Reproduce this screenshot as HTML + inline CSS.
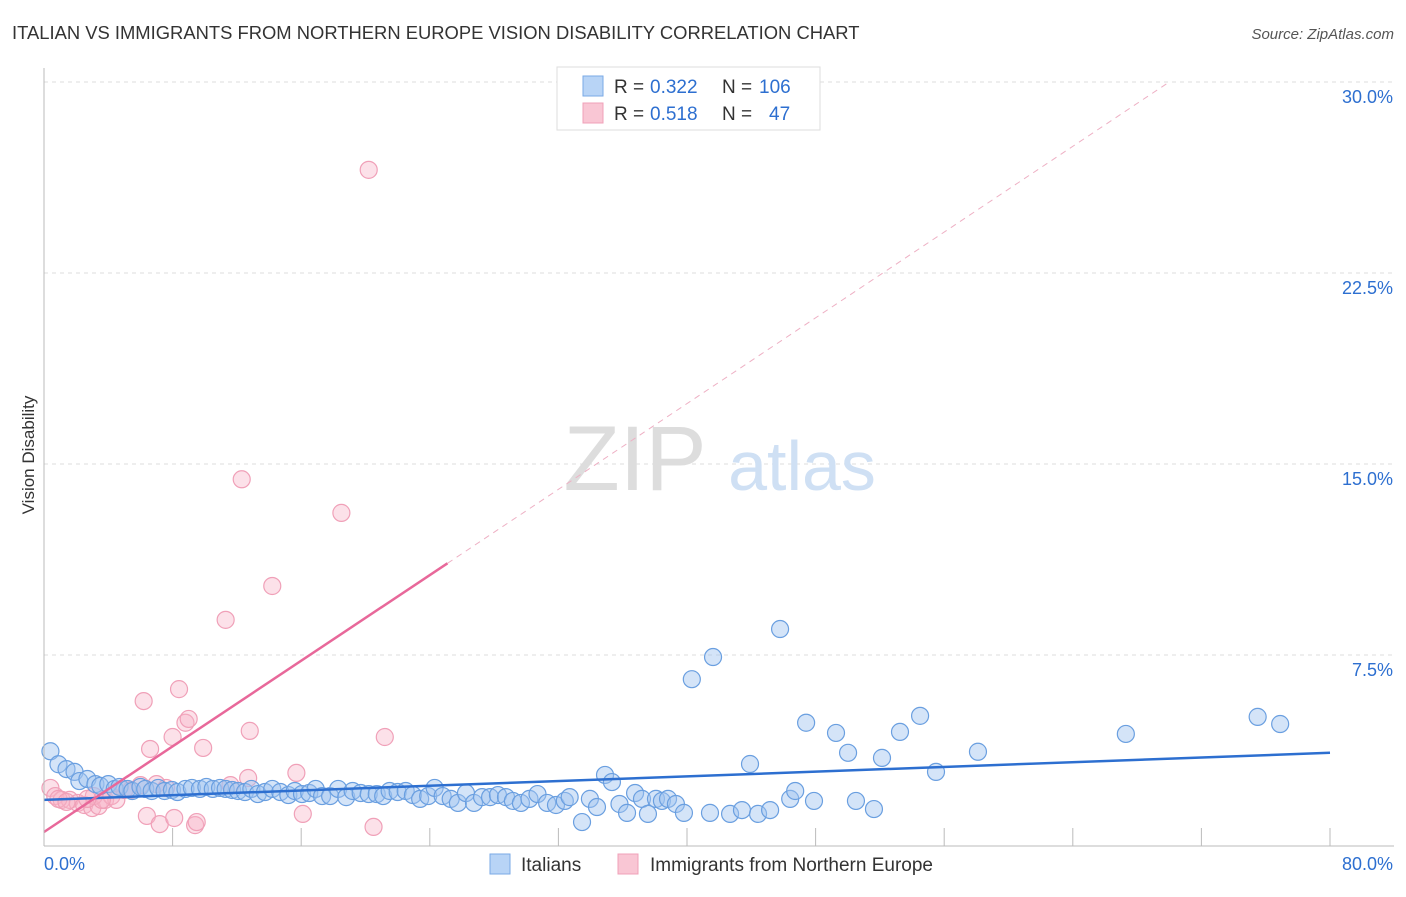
<!DOCTYPE html>
<html><head><meta charset="utf-8">
<style>
body{margin:0;background:#fff;font-family:"Liberation Sans",sans-serif;}
svg text{font-family:"Liberation Sans",sans-serif;}
</style></head>
<body>
<svg id="chart" width="1406" height="892" xmlns="http://www.w3.org/2000/svg">
<text x="12" y="39" font-size="18.4" fill="#333">ITALIAN VS IMMIGRANTS FROM NORTHERN EUROPE VISION DISABILITY CORRELATION CHART</text>
<text x="1394" y="39" font-size="15" fill="#555" text-anchor="end" font-style="italic">Source: ZipAtlas.com</text>
<text transform="translate(34,455) rotate(-90)" font-size="17" fill="#333" text-anchor="middle">Vision Disability</text>
<g id="grid"></g>
<g id="watermark">
<text x="635" y="490" font-size="92" fill="#ddd" text-anchor="middle" font-family="Liberation Serif">ZIP</text>
<text x="802" y="490" font-size="70" fill="#cfe0f4" text-anchor="middle">atlas</text>
</g>
<g id="pinkPts"></g>
<g id="bluePts"></g>
<g id="trends"></g>
<g id="axes"></g>
<g>
<rect x="557" y="67" width="263" height="63" fill="#fff" stroke="#ddd"/>
<rect x="583" y="76" width="20" height="20" fill="#b8d4f6" stroke="#7aaae6"/>
<rect x="583" y="103" width="20" height="20" fill="#f9c6d4" stroke="#f0a0b8"/>
<text x="614" y="93" font-size="19" fill="#333">R =</text>
<text x="650" y="93" font-size="19" fill="#2d6fd0">0.322</text>
<text x="722" y="93" font-size="19" fill="#333">N =</text>
<text x="759" y="93" font-size="19" fill="#2d6fd0">106</text>
<text x="614" y="120" font-size="19" fill="#333">R =</text>
<text x="650" y="120" font-size="19" fill="#2d6fd0">0.518</text>
<text x="722" y="120" font-size="19" fill="#333">N =</text>
<text x="769" y="120" font-size="19" fill="#2d6fd0">47</text>
</g>
<g>
<rect x="490" y="854" width="20" height="20" fill="#b8d4f6" stroke="#7aaae6"/>
<text x="521" y="871" font-size="19" fill="#333">Italians</text>
<rect x="618" y="854" width="20" height="20" fill="#f9c6d4" stroke="#f0a0b8"/>
<text x="650" y="871" font-size="19" fill="#333">Immigrants from Northern Europe</text>
</g>
</svg>
<script>
const xTicks=[0,8,16,24,32,40,48,56,64,72,80];
const yTicks=[7.5,15,22.5,30];
const yTickLabels=["7.5%","15.0%","22.5%","30.0%"];
const blueX=[0.4,0.9,1.4,1.9,2.2,2.7,3.2,3.5,4,4.4,4.7,5.2,5.5,6,6.3,6.7,7.1,7.5,7.96,8.3,8.8,9.2,9.7,10.1,10.5,10.95,11.3,11.7,12.07,12.5,12.9,13.3,13.75,14.2,14.7,15.2,15.6,16.05,16.5,16.9,17.3,17.8,18.3,18.8,19.2,19.7,20.2,20.7,21.1,21.5,22,22.5,22.95,23.4,23.9,24.3,24.8,25.3,25.75,26.25,26.75,27.25,27.75,28.24,28.74,29.17,29.67,30.2,30.7,31.3,31.85,32.4,32.7,33.47,33.96,34.4,34.9,35.33,35.8,36.27,36.77,37.2,37.57,38.07,38.44,38.82,39.31,39.81,40.3,41.43,41.62,42.68,43.42,43.92,44.42,45.17,45.79,46.42,46.73,47.41,47.9,49.27,50.02,50.51,51.63,52.13,53.25,54.5,55.49,58.1,67.3,75.5,76.9];
const blueY=[3.72,3.21,3.02,2.91,2.55,2.63,2.43,2.36,2.43,2.24,2.32,2.24,2.16,2.32,2.24,2.16,2.28,2.16,2.2,2.12,2.24,2.28,2.24,2.32,2.24,2.28,2.24,2.2,2.16,2.12,2.24,2.04,2.12,2.24,2.12,2.0,2.16,2.04,2.08,2.24,1.96,1.96,2.24,1.92,2.16,2.08,2.04,2.04,1.96,2.16,2.12,2.16,2.0,1.85,1.96,2.28,1.96,1.85,1.69,2.08,1.69,1.92,1.92,2.0,1.92,1.77,1.69,1.85,2.04,1.69,1.61,1.77,1.92,0.94,1.85,1.53,2.79,2.51,1.65,1.3,2.08,1.85,1.26,1.85,1.77,1.85,1.65,1.3,6.55,1.3,7.42,1.26,1.41,3.22,1.26,1.41,8.52,1.85,2.16,4.84,1.77,4.44,3.66,1.77,1.45,3.46,4.48,5.11,2.91,3.7,4.4,5.07,4.79];
const pinkX=[0.4,0.7,1.1,1.6,2.1,2.5,3,3.4,3.8,4.2,4.5,5,5.4,6,6.2,6.6,7,7.6,6.4,7.2,8,8.1,8.4,8.8,9,9.4,9.5,9.9,11.3,11.6,12.3,12.7,12.8,14.2,15.7,16.1,18.5,20.2,20.5,21.2,3.1,3.6,0.9,1.4,2.7];
const pinkY=[2.28,1.96,1.81,1.81,1.69,1.61,1.49,1.57,1.81,1.96,1.81,2.2,2.2,2.39,5.69,3.81,2.43,2.28,1.18,0.86,4.28,1.1,6.16,4.84,4.99,0.82,0.94,3.85,8.88,2.39,14.4,2.67,4.52,10.21,2.87,1.26,13.08,26.55,0.75,4.28,1.96,1.81,1.85,1.73,1.85];
const X0=44,X1=1330,Y0=846,Y1=82;
const sx=v=>X0+(v/80)*(X1-X0);
const sy=v=>Y0-(v/30)*(Y0-Y1);
const NS="http://www.w3.org/2000/svg";
function mk(tag,attrs,parent){const e=document.createElementNS(NS,tag);for(const k in attrs)e.setAttribute(k,attrs[k]);parent.appendChild(e);return e;}
const grid=document.getElementById('grid');
yTicks.forEach((t,i)=>{
 const l=mk('line',{x1:X0,x2:1394,y1:sy(t),y2:sy(t),stroke:'#ddd','stroke-dasharray':'4,4'},grid);
 
 
 const tx=mk('text',{x:1393,y:sy(t)+21,'font-size':18,fill:'#2d6fd0','text-anchor':'end'},grid);
 tx.textContent=yTickLabels[i];
 
 
});
const axes=document.getElementById('axes');
mk('line',{x1:X0,x2:X0,y1:68,y2:Y0,stroke:'#bbb'},axes);
mk('line',{x1:X0,x2:1394,y1:Y0,y2:Y0,stroke:'#bbb'},axes);
xTicks.forEach(t=>{const l=mk('line',{x1:sx(t),x2:sx(t),y1:Y0,y2:Y0-18,stroke:'#bbb'},axes);
 
 });
const xl0=mk('text',{x:44,y:870,'font-size':18,fill:'#2d6fd0'},axes);xl0.textContent='0.0%';
const xl1=mk('text',{x:1393,y:870,'font-size':18,fill:'#2d6fd0','text-anchor':'end'},axes);xl1.textContent='80.0%';
const pg=document.getElementById('pinkPts');
pinkX.forEach((v,i)=>{const c=mk('circle',{cx:sx(v),cy:sy(pinkY[i]),r:8.5,fill:'rgba(248,180,200,0.4)',stroke:'#f0a0b8','stroke-width':1.2},pg);
 
 });
const bg=document.getElementById('bluePts');
blueX.forEach((v,i)=>{const c=mk('circle',{cx:sx(v),cy:sy(blueY[i]),r:8.5,fill:'rgba(160,196,240,0.45)',stroke:'#6a9fe0','stroke-width':1.2},bg);
 
 });
const tr=document.getElementById('trends');
const b1=mk('line',{x1:sx(0),y1:sy(1.81),x2:sx(80),y2:sy(3.66),stroke:'#2d6fd0','stroke-width':2.5},tr);


const p1=mk('line',{x1:sx(0),y1:sy(0.55),x2:sx(25.1),y2:sy(11.1),stroke:'#e8689a','stroke-width':2.5},tr);


const p2=mk('line',{x1:sx(25.1),y1:sy(11.1),x2:sx(70),y2:sy(30),stroke:'#eeb0c4','stroke-width':1,'stroke-dasharray':'6,5'},tr);


</script>
</body></html>
